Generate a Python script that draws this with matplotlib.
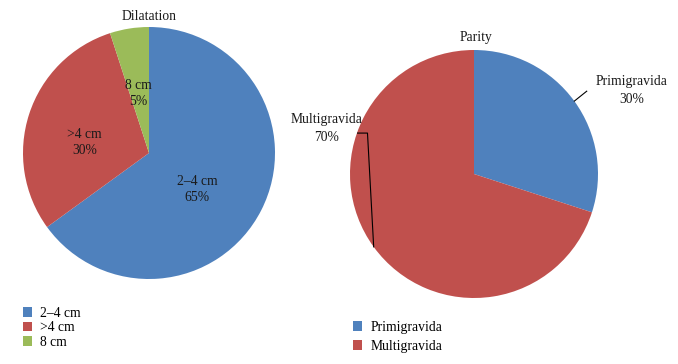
import numpy as np
import matplotlib
matplotlib.use("Agg")
import matplotlib.pyplot as plt
from matplotlib.patches import Patch

# ---- data ----
dil_labels = ["2\u20134 cm", ">4 cm", "8 cm"]
dil_values = [65, 30, 5]
par_labels = ["Primigravida", "Multigravida"]
par_values = [30, 70]

BLUE, RED, GREEN = "#4F81BD", "#C0504D", "#9BBB59"
FONT = ["Liberation Serif", "DejaVu Serif"]
plt.rcParams["font.family"] = FONT
TXT = "#1a1a1a"
FS = 9.8

W, H = 678, 364
fig = plt.figure(figsize=(W / 100, H / 100), dpi=100)
fig.patch.set_facecolor("white")


def px_axes(cx, cy, r):
    return fig.add_axes([(cx - r) / W, (H - cy - r) / H, 2 * r / W, 2 * r / H])


# ---- left pie ----
ax1 = px_axes(149, 153, 126)
wedges1, _, autot = ax1.pie(
    dil_values, colors=[BLUE, RED, GREEN], startangle=90, counterclock=False,
    radius=1.0, autopct="%d%%", pctdistance=0.5,
    wedgeprops=dict(linewidth=0),
    textprops=dict(fontsize=FS, color=TXT))
inner_pos = [(0.38, -0.29), (-0.51, 0.08), (-0.087, 0.47)]
for t, lab, v, p in zip(autot, dil_labels, dil_values, inner_pos):
    t.set_text(f"{lab}\n{v}%")
    t.set_linespacing(1.3)
    t.set_position(p)
ax1.set_xlim(-1, 1); ax1.set_ylim(-1, 1)
ax1.set_aspect("equal")
fig.text(149 / W, 1 - 17 / H, "Dilatation", ha="center", va="center", fontsize=FS, color=TXT)

# ---- right pie ----
ax2 = px_axes(474, 174, 124)
wedges2, _ = ax2.pie(
    par_values, colors=[BLUE, RED], startangle=90, counterclock=False,
    radius=1.0, wedgeprops=dict(linewidth=0))
ax2.set_xlim(-1, 1); ax2.set_ylim(-1, 1)
ax2.set_aspect("equal")
fig.text(476 / W, 1 - 37 / H, "Parity", ha="center", va="center", fontsize=FS, color=TXT)

# outside labels with leader lines
label_pos = [(1.27, 0.67), (-1.19, 0.37)]
for w, lab, v, (lx, ly) in zip(wedges2, par_labels, par_values, label_pos):
    mid = np.deg2rad((w.theta1 + w.theta2) / 2)
    ex, ey = np.cos(mid), np.sin(mid)
    ax2.text(lx, ly, f"{lab}\n{v}%", ha="center", va="center", fontsize=FS,
             color=TXT, linespacing=1.5, clip_on=False)
    if lx > 0:
        xs = [ex, ex + 0.10]
        ys = [ey, ey + 0.08]
    else:
        xs = [ex, ex - 0.05, ex - 0.13]
        ys = [ey, ly - 0.04, ly - 0.04]
    ax2.plot(xs, ys, color="black", lw=0.8, clip_on=False)

# ---- legends ----
h1 = [Patch(facecolor=c, edgecolor="none") for c in [BLUE, RED, GREEN]]
fig.legend(h1, dil_labels, loc="upper left", bbox_to_anchor=(16 / W, 1 - 300 / H),
           frameon=False, fontsize=FS, handlelength=0.7, handleheight=0.7,
           handletextpad=0.6, labelspacing=0.1, borderpad=0)
h2 = [Patch(facecolor=c, edgecolor="none") for c in [BLUE, RED]]
fig.legend(h2, par_labels, loc="upper left", bbox_to_anchor=(346 / W, 1 - 314 / H),
           frameon=False, fontsize=FS, handlelength=0.7, handleheight=0.7,
           handletextpad=0.6, labelspacing=0.45, borderpad=0)

fig.savefig("out.png", dpi=100, facecolor="white")
